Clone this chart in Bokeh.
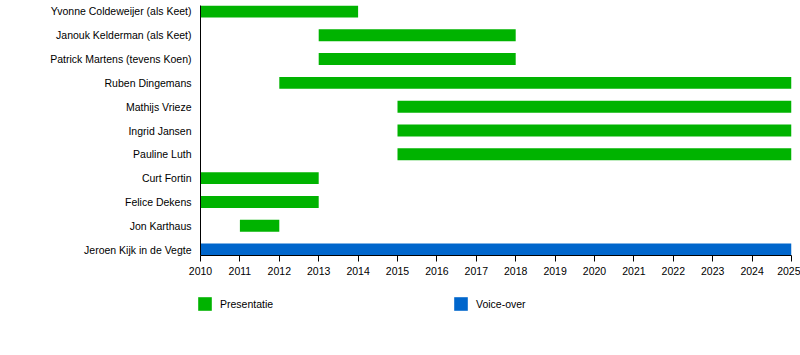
from bokeh.plotting import figure
from bokeh.layouts import column
from bokeh.models import FactorRange, Range1d, ColumnDataSource, Legend, LegendItem, FixedTicker
from bokeh.embed import file_html
from bokeh.resources import INLINE

# Data
names = ["Yvonne Coldeweijer (als Keet)", "Janouk Kelderman (als Keet)",
         "Patrick Martens (tevens Koen)", "Ruben Dingemans", "Mathijs Vrieze",
         "Ingrid Jansen", "Pauline Luth", "Curt Fortin", "Felice Dekens",
         "Jon Karthaus", "Jeroen Kijk in de Vegte"]
start_years = [2010, 2013, 2013, 2012, 2015, 2015, 2015, 2010, 2010, 2011, 2010]
end_years = [2014, 2018, 2018, 2025, 2025, 2025, 2025, 2013, 2013, 2012, 2025]
roles = ["Presentatie"] * 10 + ["Voice-over"]
role_names = ["Presentatie", "Voice-over"]
year_ticks = list(range(2010, 2026))

role_colors = {"Presentatie": "#00b300", "Voice-over": "#0066cc"}
FONT = "Liberation Sans"
FS = "10.5px"

y_range = FactorRange(factors=list(reversed(names)), range_padding=-0.25,
                      range_padding_units="absolute")
p = figure(width=800, height=285, y_range=y_range, x_range=Range1d(2010, 2025),
           output_backend="svg", toolbar_location=None,
           min_border_left=200, min_border_right=9, min_border_top=5,
           min_border_bottom=30)
p.outline_line_color = None
p.xgrid.visible = False
p.ygrid.visible = False

sources = {}
for role in role_names:
    idx = [i for i, r in enumerate(roles) if r == role]
    src = ColumnDataSource(dict(
        y=[names[i] for i in idx],
        left=[start_years[i] for i in idx],
        right=[end_years[i] for i in idx]))
    sources[role] = src
    p.hbar(y="y", left="left", right="right", height=0.5, source=src,
           fill_color=role_colors[role], line_color=None)

p.xaxis.ticker = FixedTicker(ticks=year_ticks)
p.xaxis.major_tick_out = 6
p.xaxis.major_tick_in = 0
p.xaxis.minor_tick_line_color = None
p.xaxis.major_label_standoff = 5
p.xaxis.axis_line_color = "black"
p.xaxis.major_tick_line_color = "black"
p.xaxis.major_label_text_font = FONT
p.xaxis.major_label_text_font_size = FS
p.xaxis.major_label_text_color = "black"

p.yaxis.major_tick_line_color = None
p.yaxis.minor_tick_line_color = None
p.yaxis.major_tick_out = 0
p.yaxis.major_label_standoff = 9
p.yaxis.axis_line_color = "black"
p.yaxis.major_label_text_font = FONT
p.yaxis.major_label_text_font_size = FS
p.yaxis.major_label_text_color = "black"

# Legend strip below the chart
lg = figure(width=800, height=70, x_range=Range1d(0, 800), y_range=FactorRange(factors=names),
            output_backend="svg", toolbar_location=None,
            x_axis_location=None, y_axis_location=None,
            min_border_left=0, min_border_right=0, min_border_top=0,
            min_border_bottom=0)
lg.frame_align = False
lg.grid.visible = False
lg.outline_line_color = None
items = []
for role in role_names:
    r = lg.hbar(y="y", left="left", right="right", height=0.5, source=sources[role],
                fill_color=role_colors[role], line_color=None, visible=False)
    items.append(LegendItem(label=role, renderers=[r]))

legend = Legend(items=items, location=(196, 43), orientation="horizontal",
                glyph_width=17, glyph_height=17, label_standoff=7,
                label_width=228, label_height=17, spacing=4, padding=0,
                margin=0, border_line_color=None, background_fill_alpha=0,
                label_text_font=FONT, label_text_font_size=FS,
                label_text_color="black")
lg.add_layout(legend, "center")

open("out.html", "w").write(file_html(column(p, lg, spacing=0), INLINE))
